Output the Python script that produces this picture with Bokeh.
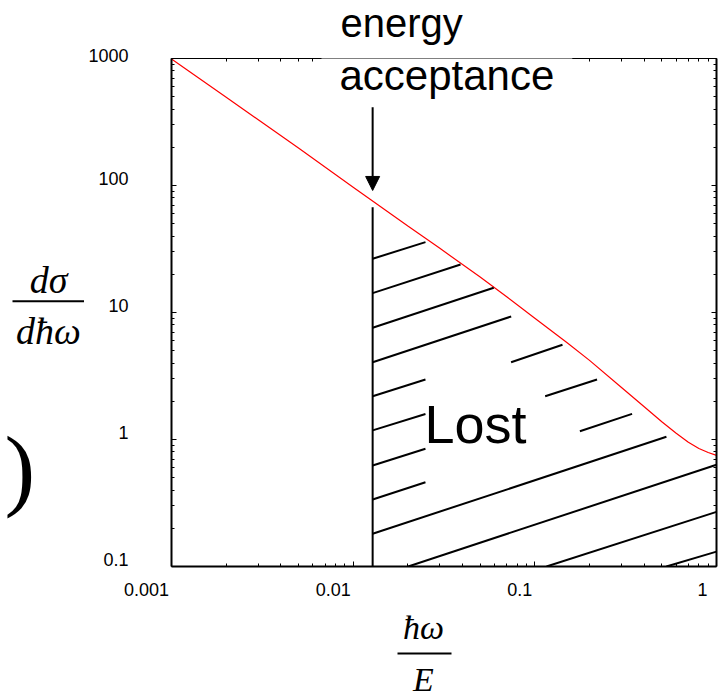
from bokeh.plotting import figure
from bokeh.layouts import column, row
from bokeh.models import (Range1d, LogAxis, FixedTicker, CustomJSTickFormatter,
                          Label, Arrow, NormalHead)
from bokeh.core.properties import value
from bokeh.embed import file_html
from bokeh.resources import INLINE

# ---------------- data ----------------
x_ticks = [0.001, 0.01, 0.1, 1.0]
x_labels = ["0.001", "0.01", "0.1", "1"]
y_ticks = [0.1, 1.0, 10.0, 100.0, 1000.0]
y_labels = ["0.1", "1", "10", "100", "1000"]

# red curve
curve_x = [0.001, 0.002, 0.005, 0.01, 0.02, 0.03, 0.05, 0.07, 0.1, 0.15,
           0.2, 0.3, 0.4, 0.5, 0.6, 0.7, 0.8, 0.9, 1.0]
curve_y = [990, 495, 197, 97, 48, 32, 19, 13.3, 9.0, 5.8,
           4.2, 2.57, 1.81, 1.38, 1.12, 0.95, 0.85, 0.79, 0.75]

# energy acceptance
acceptance = 0.0128
acceptance_top = 67.5
arrow_top = 414.0
arrow_tip = 91.4

# hatch segments ("Lost" region)
hatch_x0 = [0.0128, 0.0128, 0.0128, 0.0128, 0.074, 0.0128, 0.114, 0.0128,
            0.177, 0.0128, 0.0128, 0.0128, 0.0201, 0.116, 0.530]
hatch_y0 = [26.5, 14.2, 7.58, 4.06, 4.06, 2.19, 2.19, 1.18,
            1.16, 0.624, 0.337, 0.181, 0.1, 0.1, 0.1]
hatch_x1 = [0.025, 0.039, 0.0594, 0.0741, 0.142, 0.025, 0.220, 0.025,
            0.343, 0.025, 0.025, 0.530, 1.0, 1.0, 1.0]
hatch_y1 = [35.8, 23.9, 15.65, 9.30, 5.57, 2.97, 2.97, 1.59,
            1.59, 0.845, 0.461, 1.05, 0.633, 0.269, 0.131]

x_minor = [m * 10.0 ** e for e in range(-3, 0) for m in range(2, 10)]
y_minor = [m * 10.0 ** e for e in range(-1, 3) for m in range(2, 10)]

# ---------------- helpers (reference pixel -> data) ----------------
def rx(px):
    return 10 ** (-3 + (px - 171) / 181.7)

def ry(py):
    return 10 ** (3 - (py - 58) / 127.0)

SANS = "Liberation Sans"
SERIF = "Liberation Serif"

TOP_H = 45
LEFT_W = 84
BOT_H = 94
MAIN_W = 722 - LEFT_W
MID_H = 698 - TOP_H - BOT_H
BOT_Y0 = TOP_H + MID_H


def blank_fig(w, h):
    f = figure(width=w, height=h, x_range=Range1d(0, w), y_range=Range1d(h, 0),
               output_backend="svg", toolbar_location=None,
               x_axis_location=None, y_axis_location=None, min_border=0)
    f.outline_line_color = None
    f.background_fill_color = "white"
    f.border_fill_color = "white"
    f.grid.visible = False
    return f


# ---------------- main plot ----------------
p = figure(width=MAIN_W, height=MID_H, x_axis_type="log", y_axis_type="log",
           x_range=Range1d(x_ticks[0], x_ticks[-1]),
           y_range=Range1d(y_ticks[0], y_ticks[-1]),
           output_backend="svg", toolbar_location=None,
           min_border_left=171 - LEFT_W, min_border_right=6,
           min_border_top=58 - TOP_H, min_border_bottom=MID_H - (58 - TOP_H) - 508)
p.background_fill_color = "white"
p.border_fill_color = "white"
p.outline_line_color = None
p.xgrid.visible = False
p.ygrid.visible = False

# x labels: trailing no-break spaces so that each label ends at its tick
x_fmt = """
for (let i = 0; i < vals.length; i++) {
  if (Math.abs(Math.log10(tick) - Math.log10(vals[i])) < 1e-6) {
    const s = labs[i]; let n = 1;
    for (const c of s) n += (c === "." ? 1 : 2);
    return s + "\\u00a0".repeat(n);
  }
}
return "";
"""
# y labels: an empty second line lifts each label above its tick
y_fmt = """
for (let i = 0; i < vals.length; i++) {
  if (Math.abs(Math.log10(tick) - Math.log10(vals[i])) < 1e-6) return labs[i] + "\\n\\u00a0";
}
return "";
"""


def style(ax, ticks, minor, lw=2):
    ax.ticker = FixedTicker(ticks=ticks, minor_ticks=minor)
    ax.axis_line_color = "black"
    ax.axis_line_width = lw
    ax.major_tick_in = 5
    ax.major_tick_out = 0
    ax.minor_tick_in = 3
    ax.minor_tick_out = 0
    ax.major_tick_line_color = "black"
    ax.minor_tick_line_color = "black"
    ax.major_tick_line_width = 1
    ax.minor_tick_line_width = 1


bx = p.xaxis[0]
style(bx, x_ticks, x_minor)
bx.formatter = CustomJSTickFormatter(args=dict(vals=x_ticks, labs=x_labels), code=x_fmt)
bx.major_label_text_font = SANS
bx.major_label_text_font_size = "18px"
bx.major_label_text_color = "black"
bx.major_label_standoff = 13

ly = p.yaxis[0]
style(ly, y_ticks, y_minor)
ly.formatter = CustomJSTickFormatter(args=dict(vals=y_ticks, labs=y_labels), code=y_fmt)
ly.major_label_text_font = SANS
ly.major_label_text_font_size = "18px"
ly.major_label_text_color = "black"
ly.major_label_text_line_height = 0.7
ly.major_label_standoff = 43

blank = "return '';"
top = LogAxis()
style(top, x_ticks, x_minor, lw=1)
top.formatter = CustomJSTickFormatter(code=blank)
top.major_label_standoff = 0
p.add_layout(top, "above")

right = LogAxis()
style(right, y_ticks, y_minor)
right.formatter = CustomJSTickFormatter(code=blank)
right.major_label_standoff = 0
p.add_layout(right, "right")

# curve
p.line(curve_x, curve_y, line_color="#ff0000", line_width=1.2)

# acceptance line
p.segment(x0=[acceptance], y0=[y_ticks[0]], x1=[acceptance], y1=[acceptance_top],
          line_color="black", line_width=2)

# hatching
p.segment(x0=hatch_x0, y0=hatch_y0, x1=hatch_x1, y1=hatch_y1,
          line_color="black", line_width=2)

# Lost
p.add_layout(Label(x=rx(424), y=ry(423), text="Lost", text_font=SANS,
                   text_font_size="54px", text_color="black",
                   text_align="left", text_baseline="alphabetic"))

# "acceptance" (white box hides the top axis behind it)
p.add_layout(Label(x=rx(321), y=ry(75), text="acceptance", text_font=SANS,
                   text_font_size="42px", text_color="black",
                   text_align="left", text_baseline="alphabetic",
                   background_fill_color="white", padding=18))
p.add_layout(Arrow(end=NormalHead(size=14, fill_color="black", line_color="black"),
                   x_start=acceptance, y_start=arrow_top,
                   x_end=acceptance, y_end=arrow_tip,
                   line_color="black", line_width=2))

# ---------------- top strip: "energy" ----------------
tf = blank_fig(722, TOP_H)
tf.text(x=[340], y=[22.5], text=["energy"], text_font=value(SANS),
        text_font_size="40px", text_color="black",
        text_align="left", text_baseline="alphabetic")

# ---------------- left strip: d sigma / d hbar omega ----------------
lf = blank_fig(LEFT_W, MID_H)
lf.text(x=[48, 48], y=[289 - TOP_H, 345 - TOP_H], text=["dσ", "dħω"],
        text_font=value(SERIF), text_font_style="italic", text_font_size="38px",
        text_color="black", text_align="center", text_baseline="alphabetic")
lf.segment(x0=[12], y0=[312 - TOP_H], x1=[84], y1=[312 - TOP_H],
           line_color="black", line_width=2)
lf.text(x=[4], y=[496 - TOP_H], text=[")"], text_font=value(SERIF),
        text_font_size="92px", text_color="black",
        text_align="left", text_baseline="alphabetic")

# ---------------- bottom strip: hbar omega / E ----------------
bf = blank_fig(722, BOT_H)
bf.text(x=[423, 423], y=[627 - BOT_Y0, 679 - BOT_Y0], text=["ħω", "E"],
        text_font=value(SERIF), text_font_style="italic", text_font_size="34px",
        text_color="black", text_align="center", text_baseline="alphabetic")
bf.segment(x0=[397], y0=[653 - BOT_Y0], x1=[451], y1=[653 - BOT_Y0],
           line_color="black", line_width=2)

layout = column(tf, row(lf, p), bf)
open("out.html", "w").write(file_html(layout, INLINE))
